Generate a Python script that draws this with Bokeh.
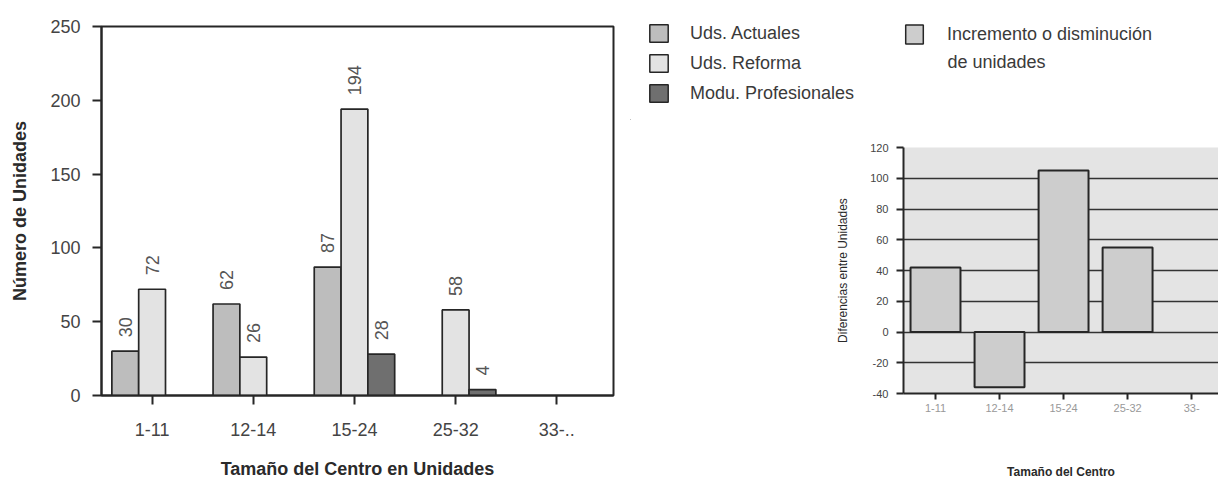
from math import pi
from bokeh.plotting import figure
from bokeh.models import Range1d, FixedTicker, Legend, LegendItem, Label
from bokeh.layouts import row, column
from bokeh.embed import file_html
from bokeh.resources import INLINE
from bokeh.core.properties import value

# ---------------- data ----------------
categories = ["1-11", "12-14", "15-24", "25-32", "33-.."]
diff_categories = ["1-11", "12-14", "15-24", "25-32", "33-"]
uds_actuales = [30, 62, 87, 0, 0]
uds_reforma = [72, 26, 194, 58, 0]
modu_profesionales = [0, 0, 28, 4, 0]
diferencias = [42, -36, 105, 55, 0]
series_names = ["Uds. Actuales", "Uds. Reforma", "Modu. Profesionales"]
diff_legend = ["Incremento o disminución", "de unidades"]
y_ticks_left = [0, 50, 100, 150, 200, 250]
y_ticks_right = [-40, -20, 0, 20, 40, 60, 80, 100, 120]

# ---------------- styles ----------------
FONT = "Liberation Sans"
INK = "#262626"
TXT = "#3a3a3a"
series_colors = ["#bdbdbd", "#e3e3e3", "#6f6f6f"]
diff_color = "#cdcdcd"

# ---------------- left chart ----------------
p1 = figure(width=630, height=481, x_range=Range1d(-0.5, 4.56), y_range=Range1d(0, 250),
            output_backend="svg", toolbar_location=None,
            min_border_left=101, min_border_right=17, min_border_top=26, min_border_bottom=85)
p1.xgrid.visible = False
p1.ygrid.visible = False
p1.outline_line_color = INK
p1.outline_line_width = 2

offsets = [-0.265, 0.0, 0.265]
bar_w = 0.265
for vals, off, col in zip([uds_actuales, uds_reforma, modu_profesionales], offsets, series_colors):
    xs = [i + off for i, v in enumerate(vals) if v > 0]
    tops = [v for v in vals if v > 0]
    p1.vbar(x=xs, top=tops, bottom=0, width=bar_w, fill_color=col,
            line_color=INK, line_width=1.7)
    p1.text(x=xs, y=tops, text=[str(v) for v in tops], angle=pi / 2,
            text_align="left", text_baseline="middle", y_offset=-14,
            text_font=value(FONT), text_font_size="18px", text_color="#555555")

p1.xaxis.ticker = FixedTicker(ticks=list(range(len(categories))))
p1.xaxis.major_label_overrides = {i: c for i, c in enumerate(categories)}
p1.yaxis.ticker = FixedTicker(ticks=y_ticks_left)
p1.xaxis.axis_label = "Tamaño del Centro en Unidades"
p1.yaxis.axis_label = "Número de Unidades"
for ax in (p1.xaxis[0], p1.yaxis[0]):
    ax.axis_line_color = INK
    ax.axis_line_width = 2
    ax.major_tick_line_color = INK
    ax.major_tick_line_width = 2
    ax.major_tick_out = 9
    ax.major_tick_in = 0
    ax.minor_tick_line_color = None
    ax.major_label_text_font = FONT
    ax.major_label_text_font_size = "18px"
    ax.major_label_text_color = "#444444"
    ax.axis_label_text_font = FONT
    ax.axis_label_text_font_size = "18px"
    ax.axis_label_text_font_style = "bold"
    ax.axis_label_text_color = "#2a2a2a"
p1.xaxis.major_label_standoff = 18
p1.xaxis.axis_label_standoff = 20
p1.yaxis.major_label_standoff = 12
p1.yaxis.axis_label_standoff = 17

# ---------------- legend panel (above the right chart) ----------------
leg = figure(width=588, height=120, x_range=Range1d(0, 588), y_range=Range1d(0, 120),
             output_backend="svg", toolbar_location=None, x_axis_type=None, y_axis_type=None,
             min_border=0)
leg.grid.visible = False
leg.outline_line_color = None
# proxy renderers, kept far outside the visible range, that only supply legend swatches
proxies = [leg.vbar(x=[-1000], top=[-1000], bottom=[-1001], width=1, fill_color=c,
                    line_color=INK, line_width=1.5)
           for c in series_colors]
proxy_diff = leg.vbar(x=[-1000], top=[-1000], bottom=[-1001], width=1, fill_color=diff_color,
                      line_color=INK, line_width=1.5)
legend1 = Legend(items=[LegendItem(label=n, renderers=[r]) for n, r in zip(series_names, proxies)],
                 location=(17, 16), orientation="vertical",
                 glyph_width=23, glyph_height=22, label_standoff=20, label_height=22,
                 spacing=8, padding=0, margin=0, border_line_color=None,
                 background_fill_alpha=0, label_text_font=FONT, label_text_font_size="18px",
                 label_text_color=TXT)
legend2 = Legend(items=[LegendItem(label=diff_legend[0], renderers=[proxy_diff])],
                 location=(273, 74), glyph_width=22, glyph_height=24, label_standoff=22,
                 label_height=22, padding=0, margin=0, border_line_color=None,
                 background_fill_alpha=0, label_text_font=FONT, label_text_font_size="18px",
                 label_text_color=TXT)
leg.add_layout(legend1)
leg.add_layout(legend2)
leg.add_layout(Label(x=317, y=59, x_units="screen", y_units="screen", text=diff_legend[1],
                     text_baseline="middle", text_font=FONT, text_font_size="18px",
                     text_color=TXT))

# ---------------- right chart ----------------
p2 = figure(width=588, height=361, x_range=Range1d(-0.5, 4.42), y_range=Range1d(-40, 120),
            output_backend="svg", toolbar_location=None,
            min_border_left=273, min_border_right=0, min_border_top=27, min_border_bottom=85,
            background_fill_color="#e4e4e4")
p2.outline_line_color = None
p2.xgrid.visible = False
p2.ygrid.ticker = FixedTicker(ticks=y_ticks_right)
p2.ygrid.grid_line_color = "#333333"
p2.ygrid.grid_line_width = 1.5

dx = [i for i, v in enumerate(diferencias) if v != 0]
dv = [v for v in diferencias if v != 0]
p2.vbar(x=dx, top=dv, bottom=0, width=0.78, fill_color=diff_color, line_color=INK, line_width=2)

p2.xaxis.ticker = FixedTicker(ticks=list(range(len(diff_categories))))
p2.xaxis.major_label_overrides = {i: c for i, c in enumerate(diff_categories)}
p2.yaxis.ticker = FixedTicker(ticks=y_ticks_right)
p2.yaxis.major_label_overrides = {t: str(t) for t in y_ticks_right}
p2.xaxis.axis_label = "Tamaño del Centro"
p2.yaxis.axis_label = "Diferencias entre Unidades"
for ax in (p2.xaxis[0], p2.yaxis[0]):
    ax.axis_line_color = INK
    ax.axis_line_width = 2
    ax.major_tick_line_color = INK
    ax.major_tick_line_width = 2
    ax.major_tick_in = 0
    ax.minor_tick_line_color = None
    ax.major_label_text_font = FONT
    ax.axis_label_text_font = FONT
    ax.axis_label_text_color = "#2a2a2a"
p2.xaxis.major_tick_out = 6
p2.xaxis.major_label_text_font_size = "11px"
p2.xaxis.major_label_text_color = "#999999"
p2.xaxis.major_label_standoff = 4
p2.xaxis.axis_label_text_font_size = "12px"
p2.xaxis.axis_label_text_font_style = "bold"
p2.xaxis.axis_label_standoff = 50
p2.yaxis.major_tick_out = 7
p2.yaxis.major_label_text_font_size = "11px"
p2.yaxis.major_label_text_color = "#444444"
p2.yaxis.major_label_standoff = 8
p2.yaxis.axis_label_text_font_size = "12px"
p2.yaxis.axis_label_text_font_style = "normal"
p2.yaxis.axis_label_standoff = 17

layout = row(p1, column(column(leg), column(p2)))
open("out.html", "w").write(file_html(layout, INLINE))
